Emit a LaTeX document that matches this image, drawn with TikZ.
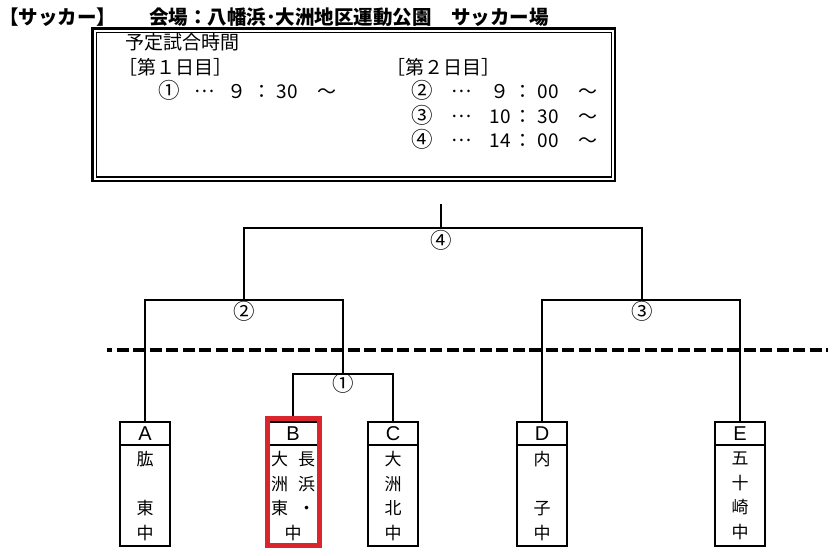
\documentclass[tikz,border=0pt]{standalone}
\usepackage{fontspec}
\newfontfamily\jp{Noto Sans CJK JP}
\newfontfamily\lat{Liberation Sans}
\definecolor{hl}{RGB}{218,37,45}
\newcommand{\cnum}[1]{{\fontsize{21.5}{21.5}\selectfont #1}}
\newcommand{\mdots}{\raisebox{5.5pt}{…}}
\begin{document}
\begin{tikzpicture}[x=1pt,y=-1pt]
\useasboundingbox (0,0) rectangle (840,556);
\tikzset{
  ln/.style={line width=2pt},
  teambox/.style={draw, line width=2pt, minimum width=50pt, minimum height=124pt, inner sep=0pt, outer sep=0pt},
  letter/.style={font=\lat\fontsize{20}{20}\selectfont, inner sep=0pt},
  names/.style={font=\jp\fontsize{17}{24.5}\selectfont, align=center, inner sep=0pt},
  rnd/.style={font=\jp\fontsize{21.5}{21.5}\selectfont, inner sep=0pt, anchor=base},
  sched/.style={font=\jp\fontsize{19}{19}\selectfont, inner sep=0pt, anchor=base west},
}
% title
\node[font=\jp\bfseries\fontsize{19.5}{19.5}\selectfont, anchor=base west, inner sep=0pt] (title) at (-1,24.4)
  {【サッカー】\hspace{33pt}会場：八幡浜･大洲地区運動公園　サッカー場};
% schedule box
\draw[line width=2.5pt] (92.5,28.5) rectangle (615,181);
\draw[line width=1.5pt] (96.5,32.5) rectangle (611.5,177);
\node[sched] (s0) at (125,49.2) {予定試合時間};
\node[sched] (s1) at (118,74.2) {［第１日目］};
\node[sched] (s2) at (386,74.2) {［第２日目］};
\node[sched] (r1) at (152,98.2) {\makebox[34pt]{\cnum{①}}\makebox[36pt]{\mdots}\makebox[30pt]{９}\makebox[20pt]{：}\makebox[30pt]{30}\makebox[50pt]{～}};
\node[sched] (r2) at (405,98.2) {\makebox[34pt]{\cnum{②}}\makebox[44pt]{\mdots}\makebox[34pt]{９}\makebox[12pt]{：}\makebox[38pt]{00}\makebox[42pt]{～}};
\node[sched] (r3) at (405,123.2) {\makebox[34pt]{\cnum{③}}\makebox[44pt]{\mdots}\makebox[34pt]{10}\makebox[12pt]{：}\makebox[38pt]{30}\makebox[42pt]{～}};
\node[sched] (r4) at (405,147.2) {\makebox[34pt]{\cnum{④}}\makebox[44pt]{\mdots}\makebox[34pt]{14}\makebox[12pt]{：}\makebox[38pt]{00}\makebox[42pt]{～}};
% dashed line
\coordinate (dl) at (107,350);
\coordinate (dr) at (828,350);
\draw[line width=4.5pt, dash pattern=on 12pt off 4.5pt, dash phase=7pt] (dl) -- (dr);
% team boxes
\node[teambox] (A) at (145,484) {};
\node[teambox] (B) at (293,484) {};
\node[teambox] (C) at (393,484) {};
\node[teambox] (D) at (542,484) {};
\node[teambox] (E) at (740,484) {};
\foreach \n in {A,B,C,D,E}{
  \draw[ln] ([yshift=-23pt]\n.north west) -- ([yshift=-23pt]\n.north east);
  \node[letter] (L\n) at ([yshift=-11.5pt]\n.north) {\n};
}
\node[names] (NA) at ([yshift=-74pt]A.north) {肱\\\mbox{}\\東\\中};
\node[names] (NB) at ([yshift=-74pt]B.north) {大\hspace{10pt}長\\洲\hspace{10pt}浜\\東\hspace{10pt}・\\中};
\node[names] (NC) at ([yshift=-74pt]C.north) {大\\洲\\北\\中};
\node[names] (ND) at ([yshift=-74pt]D.north) {内\\\mbox{}\\子\\中};
\node[names] (NE) at ([yshift=-74pt]E.north) {五\\十\\崎\\中};
% bracket
\coordinate (topend) at (441,204);
\coordinate (j4) at (441,228);
\coordinate (j2) at (244,300);
\coordinate (j3) at (642,300);
\coordinate (s2r) at (343,300);
\coordinate (j1) at (343,374);
\draw[ln] (A.north) |- (s2r) -- (j1);
\draw[ln] (B.north) |- (j1) -| (C.north);
\draw[ln] (D.north) |- (j3) -| (E.north);
\draw[ln] (j2) |- (j4) -| (j3);
\draw[ln] (j4) -- (topend);
% highlight
\node[draw=hl, line width=5pt, minimum width=52pt, minimum height=127pt, inner sep=0pt] (Bmark) at (293.5,482) {};
% round labels
\node[rnd] (R4) at (441,248) {④};
\node[rnd] (R2) at (244,319) {②};
\node[rnd] (R3) at (642,319) {③};
\node[rnd] (R1) at (343,391) {①};
\end{tikzpicture}
\end{document}
